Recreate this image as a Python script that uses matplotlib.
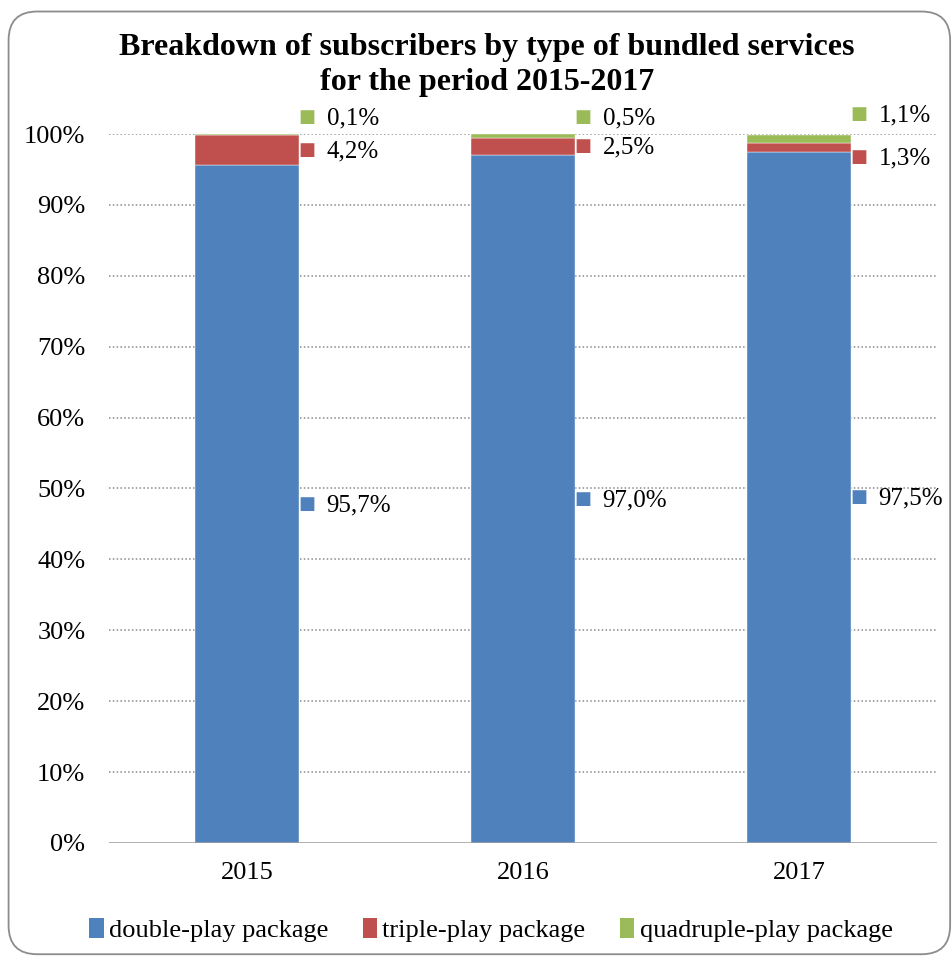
import numpy as np
import matplotlib.pyplot as plt
from matplotlib.patches import FancyBboxPatch, Patch

years = ['2015', '2016', '2017']
series = ['double-play package', 'triple-play package', 'quadruple-play package']
double_play = [95.7, 97.0, 97.5]
triple_play = [4.2, 2.5, 1.3]
quadruple_play = [0.1, 0.5, 1.1]
colors = ['#4F81BD', '#C0504D', '#9BBB59']

plt.rcParams['font.family'] = ['Liberation Serif', 'DejaVu Serif']

fig = plt.figure(figsize=(9.53, 9.6), dpi=100)
ax = fig.add_axes([0.1144, 0.1219, 0.8688, 0.7385])

# rounded chart frame
frame = FancyBboxPatch((0.009, 0.006), 0.988, 0.982, boxstyle='round,pad=0,rounding_size=0.03',
                       transform=fig.transFigure, facecolor='none', edgecolor='#8c8c8c', lw=1.3)
fig.patches.append(frame)

x = np.arange(len(years))
w = 0.375
values = [double_play, triple_play, quadruple_play]
bottom = np.zeros(len(years))
for vals, col in zip(values, colors):
    ax.bar(x, vals, w, bottom=bottom, color=col, edgecolor='white', linewidth=0.3, zorder=3)
    bottom += np.array(vals)

ax.set_xlim(-0.5, 2.5)
ax.set_ylim(0, 100)
ax.set_yticks(np.arange(0, 101, 10))
ax.set_yticklabels([f'{v}%' for v in range(0, 101, 10)])
ax.set_xticks(x)
ax.set_xticklabels(years)
ax.tick_params(axis='both', length=0, labelsize=19)
ax.tick_params(axis='y', pad=17)
ax.tick_params(axis='x', pad=14)
for s in ax.spines.values():
    s.set_visible(False)
for v in range(10, 101, 10):
    ax.axhline(v, color='#8a8a8a', lw=1.1, ls=(0, (1, 1.5)), zorder=1)
ax.axhline(0, color='#999999', lw=1.8, zorder=4)

# data labels: vertical nudge (points) per series and year
nudge = [[0, 0, 0], [0, 0, -7], [12, 12, 15]]
bottom = np.zeros(len(years))
for si, (vals, col) in enumerate(zip(values, colors)):
    for i, v in enumerate(vals):
        if si == 2:
            yy = bottom[i] + v
        else:
            yy = bottom[i] + v / 2
        xr = x[i] + w / 2
        ax.annotate('■', (xr, yy), xytext=(5.5, nudge[si][i]), textcoords='offset points',
                    color=col, fontsize=13, va='center', ha='center',
                    family=['DejaVu Sans'], annotation_clip=False)
        ax.annotate(f'{v:.1f}%'.replace('.', ','), (xr, yy), xytext=(20, nudge[si][i] - 1),
                    textcoords='offset points', fontsize=18, va='center', ha='left',
                    annotation_clip=False)
    bottom += np.array(vals)

fig.text(0.511, 0.950, 'Breakdown of subscribers by type of bundled services',
         ha='center', va='center', fontsize=23, fontweight='bold')
fig.text(0.511, 0.914, 'for the period 2015-2017',
         ha='center', va='center', fontsize=23, fontweight='bold')

handles = [Patch(facecolor=c, edgecolor='none') for c in colors]
fig.legend(handles, series, loc='center', bbox_to_anchor=(0.515, 0.031), ncol=3,
           frameon=False, fontsize=19, handlelength=0.55, handleheight=0.75,
           handletextpad=0.2, columnspacing=1.3)

fig.savefig('out.png', dpi=100)
